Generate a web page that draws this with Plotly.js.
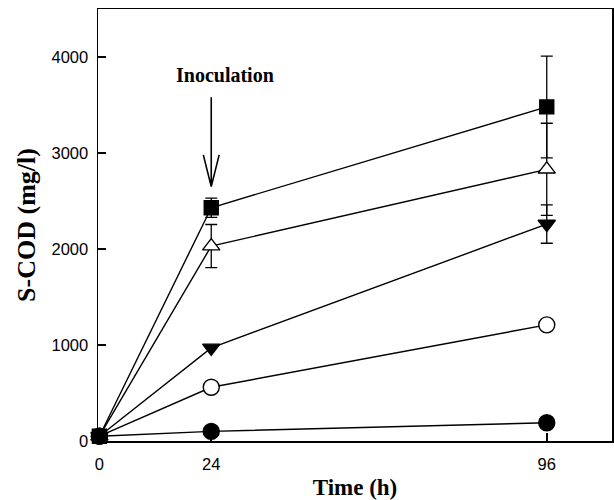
<!DOCTYPE html>
<html><head><meta charset="utf-8">
<script src="https://cdn.plot.ly/plotly-3.0.1.min.js"></script>
<style>html,body{margin:0;padding:0;background:#fff;}#c{width:614px;height:500px;}</style>
</head><body><div id="c"></div>
<script>
var time = [0, 24, 96];
var sqFilled = [50, 2430, 3480];
var sqFilledErr = [0, 100, 530];
var triOpen = [50, 2030, 2830];
var triOpenErr = [0, 225, 480];
var triDown = [50, 970, 2260];
var triDownErr = [0, 0, 200];
var circOpen = [50, 560, 1210];
var circFilled = [50, 100, 190];
var xTicks = [0, 24, 96];
var yTicks = [0, 1000, 2000, 3000, 4000];

function series(name, y, err, symbol, fill, size) {
  var t = {
    x: time, y: y, name: name, type: 'scatter', mode: 'lines+markers',
    line: {color: 'black', width: 1.4},
    marker: {symbol: symbol, size: size, color: fill, line: {color: 'black', width: 1.4}},
    cliponaxis: false
  };
  if (err) t.error_y = {type: 'data', array: err, visible: true, color: 'black', thickness: 1.3, width: 6};
  return t;
}
var data = [
  series('Filled circle', circFilled, null, 'circle', 'black', 16),
  series('Open circle', circOpen, null, 'circle', 'white', 16),
  series('Inverted triangle', triDown, triDownErr, 'triangle-down', 'black', 15),
  series('Open triangle', triOpen, triOpenErr, 'triangle-up', 'white', 15),
  series('Filled square', sqFilled, sqFilledErr, 'square', 'black', 14)
];
var layout = {
  width: 614, height: 500,
  margin: {l: 98, r: 2, t: 9, b: 59},
  paper_bgcolor: 'white', plot_bgcolor: 'white',
  showlegend: false,
  xaxis: {
    range: [-0.3, 110], tickvals: xTicks, ticktext: xTicks.map(String),
    ticks: 'inside', ticklen: 8, tickwidth: 1.5, tickcolor: 'black', ticklabelstandoff: 8,
    showline: true, linecolor: 'black', linewidth: 1.5, mirror: true,
    showgrid: false, zeroline: false,
    tickfont: {family: 'Liberation Sans, Arial, sans-serif', size: 16.5, color: 'black'},
    title: {text: '<b>Time (h)</b>', font: {family: 'Liberation Serif, Times New Roman, serif', size: 23, color: 'black'}, standoff: 6}
  },
  yaxis: {
    range: [0, 4500], tickvals: yTicks, ticktext: yTicks.map(String),
    ticks: 'inside', ticklen: 8, tickwidth: 1.5, tickcolor: 'black', ticklabelstandoff: 5,
    showline: true, linecolor: 'black', linewidth: 1.5, mirror: true,
    showgrid: false, zeroline: false,
    tickfont: {family: 'Liberation Sans, Arial, sans-serif', size: 16.5, color: 'black'},
    title: {text: '<b>S-COD (mg/l)</b>', font: {family: 'Liberation Serif, Times New Roman, serif', size: 26, color: 'black'}, standoff: 8}
  },
  shapes: [
    {type: 'path', xref: 'x', yref: 'y', path: 'M24,3580 L24,2650 M22.3,2980 L24,2650 L25.7,2980', line: {color: 'black', width: 1.6}}
  ],
  annotations: [
    {x: 27, y: 3810, xref: 'x', yref: 'y', text: '<b>Inoculation</b>', showarrow: false,
     font: {family: 'Liberation Serif, Times New Roman, serif', size: 20, color: 'black'}}
  ]
};
Plotly.newPlot('c', data, layout, {displayModeBar: false, staticPlot: true});
</script>
</body></html>
